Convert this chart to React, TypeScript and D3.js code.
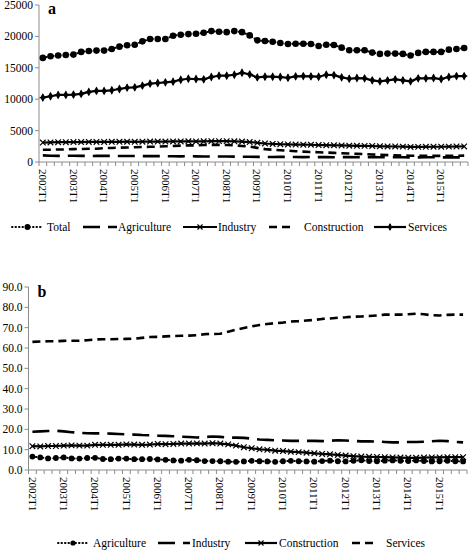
import React from "react";
import * as d3 from "d3";

const years = [2002, 2003, 2004, 2005, 2006, 2007, 2008, 2009, 2010, 2011, 2012, 2013, 2014, 2015];
const quarterSuffixes = ["T1", "T2", "T3", "T4"];
const quarters: string[] = years.flatMap((y) => quarterSuffixes.map((q) => `${y}${q}`));

// Panel a (thousands of employed)
const totalA = [16580,16840,16950,17050,17100,17530,17680,17740,17740,18000,18370,18580,18680,19210,19580,19580,19580,20100,20260,20370,20420,20580,20840,20740,20680,20840,20680,20160,19370,19260,19160,18950,18790,18840,18840,18790,18470,18680,18630,18210,17790,17790,17790,17420,17210,17260,17260,17210,16950,17370,17530,17530,17530,17890,18000,18160];
const agricultureA = [1050,1000,980,990,1000,980,960,970,990,960,950,960,960,940,930,940,930,910,900,920,900,880,870,880,870,850,830,840,820,810,800,820,800,790,780,800,780,770,760,780,770,760,750,770,760,740,750,760,740,730,760,750,740,730,740,750];
const industryA = [3100,3120,3150,3150,3170,3180,3200,3200,3190,3210,3220,3230,3220,3240,3260,3260,3250,3270,3280,3290,3280,3300,3310,3320,3320,3300,3250,3180,3050,2950,2880,2830,2800,2780,2760,2750,2700,2680,2660,2640,2600,2580,2570,2550,2500,2480,2470,2450,2400,2410,2420,2430,2430,2450,2470,2480];
const constructionA = [1940,1960,1990,2000,2050,2080,2100,2120,2200,2240,2280,2300,2350,2400,2420,2450,2500,2550,2600,2640,2650,2700,2720,2730,2700,2650,2550,2450,2250,2050,1950,1870,1800,1720,1650,1600,1550,1500,1450,1400,1350,1300,1250,1200,1150,1100,1050,1020,1000,1000,990,980,980,990,1000,1020];
const servicesA = [10260,10470,10680,10680,10740,10840,11160,11320,11320,11420,11630,11840,11890,12160,12470,12580,12680,12790,13100,13260,13210,13160,13530,13740,13740,13890,14210,13950,13470,13580,13580,13530,13420,13630,13680,13630,13580,13890,13840,13470,13260,13370,13320,13000,12840,13000,13160,13000,12840,13320,13320,13370,13210,13530,13680,13680];

// Panel b (shares, %)
const agricultureB = [6.6,6.2,5.7,5.9,6.2,5.7,5.6,5.9,6.0,5.4,5.3,5.6,5.6,5.3,5.3,5.4,5.2,5.0,4.7,4.6,5.0,4.8,4.4,4.4,4.3,4.1,4.0,4.2,4.5,4.3,4.2,4.0,4.3,4.5,4.3,4.2,4.1,4.4,4.6,4.3,4.2,4.5,4.8,4.4,4.3,4.6,4.7,4.5,4.4,4.7,4.4,4.2,4.3,4.5,4.3,4.2];
const industryB = [18.8,19.0,19.2,19.3,19.0,18.6,18.3,18.1,18.0,18.0,17.9,17.7,17.5,17.4,17.2,17.1,16.9,16.8,16.6,16.4,16.2,16.0,16.2,16.5,16.3,15.9,15.9,15.8,15.4,15.0,14.8,14.6,14.5,14.3,14.3,14.3,14.3,14.2,14.4,14.6,14.5,14.3,14.1,14.1,14.0,13.8,13.6,13.6,13.8,13.8,13.9,14.1,14.4,14.2,13.8,13.6];
const constructionB = [11.7,11.6,11.8,11.8,12.0,12.1,12.0,12.0,12.4,12.4,12.4,12.4,12.6,12.5,12.4,12.5,12.8,12.7,12.8,13.0,13.0,13.1,13.0,13.2,13.0,12.6,12.0,11.2,10.7,10.2,9.9,9.5,9.3,9.0,8.8,8.5,8.2,7.9,7.7,7.4,7.1,6.8,6.6,6.5,6.4,6.3,6.2,6.1,6.0,6.0,6.1,6.2,6.2,6.3,6.3,6.3];
const servicesB = [63.0,63.2,63.3,63.3,63.5,63.6,63.6,63.8,64.2,64.3,64.3,64.4,64.5,64.6,65.0,65.4,65.5,65.7,65.9,66.0,66.1,66.3,66.8,66.9,67.0,68.0,69.0,69.8,70.6,71.3,71.8,72.2,72.5,73.0,73.2,73.5,73.8,74.3,74.5,74.9,75.1,75.4,75.5,75.7,76.0,76.4,76.4,76.4,76.6,76.9,76.6,76.1,76.0,76.3,76.4,76.4];

const yTicksA = [0, 5000, 10000, 15000, 20000, 25000];
const yTicksB = [0, 10, 20, 30, 40, 50, 60, 70, 80, 90];

const FONT = "Liberation Serif, DejaVu Serif, serif";
const AXIS = "#8c8c8c";

type Style = {
  name: string;
  values: number[];
  dash?: string;
  width: number;
  marker?: "circle" | "x" | "diamond";
  r?: number;
  cap?: "round" | "butt";
};

function Marker({ kind, x, y, r }: { kind: string; x: number; y: number; r: number }) {
  if (kind === "circle") return <circle cx={x} cy={y} r={r} fill="#000" />;
  if (kind === "x")
    return (
      <path
        d={`M${x - r},${y - r}L${x + r},${y + r}M${x - r},${y + r}L${x + r},${y - r}`}
        stroke="#000"
        strokeWidth={1.2}
        fill="none"
      />
    );
  const p = d3.symbol(d3.symbolDiamond, r * r * 2.2)();
  return (
    <g transform={`translate(${x},${y})`}>
      <path d={p || ""} fill="#000" />
      <path d={`M${-r},0L${r},0M0,${-r}L0,${r}`} stroke="#000" strokeWidth={1.2} />
    </g>
  );
}

function Panel({
  series,
  x0,
  x1,
  yTop,
  yBottom,
  domainMax,
  ticks,
  fmt,
  letter,
  letterY,
}: {
  series: Style[];
  x0: number;
  x1: number;
  yTop: number;
  yBottom: number;
  domainMax: number;
  ticks: number[];
  fmt: (v: number) => string;
  letter: string;
  letterY: number;
}) {
  const x = d3.scaleBand<string>().domain(quarters).range([x0, x1]).padding(0);
  const y = d3.scaleLinear().domain([0, domainMax]).range([yBottom, yTop]);
  const cx = (q: string) => (x(q) as number) + x.bandwidth() / 2;
  const line = d3
    .line<number>()
    .x((_, i) => cx(quarters[i]))
    .y((d) => y(d));
  const boundaries = d3.range(quarters.length + 1).map((i) => x0 + i * x.bandwidth());
  return (
    <g style={{ fontFamily: FONT }}>
      <line x1={x0} x2={x0} y1={yTop} y2={yBottom} stroke={AXIS} strokeWidth={1} />
      {ticks.map((t) => (
        <g key={t}>
          <line x1={x0 - 4} x2={x0} y1={y(t)} y2={y(t)} stroke={AXIS} />
          <text x={x0 - 6} y={y(t)} dy="0.35em" textAnchor="end" fontSize={11.5}>
            {fmt(t)}
          </text>
        </g>
      ))}
      <line x1={x0} x2={x1} y1={yBottom} y2={yBottom} stroke={AXIS} strokeWidth={1} />
      {boundaries.map((b, i) => (
        <line key={i} x1={b} x2={b} y1={yBottom} y2={yBottom + 4} stroke={AXIS} />
      ))}
      {quarters.map((q, i) =>
        i % 4 === 0 ? (
          <text
            key={q}
            transform={`translate(${cx(q)},${yBottom + 7}) rotate(90)`}
            dy="0.35em"
            fontSize={11}
          >
            {q}
          </text>
        ) : null
      )}
      <text x={x0 + 9} y={letterY} fontSize={16} fontWeight="bold">
        {letter}
      </text>
      {series.map((s) => (
        <g key={s.name}>
          <path
            d={line(s.values) || ""}
            fill="none"
            stroke="#000"
            strokeWidth={s.width}
            strokeDasharray={s.dash}
            strokeLinecap={s.cap || "butt"}
            strokeLinejoin="round"
          />
          {s.marker &&
            s.values.map((v, i) => (
              <Marker key={i} kind={s.marker as string} x={cx(quarters[i])} y={y(v)} r={s.r || 3} />
            ))}
        </g>
      ))}
    </g>
  );
}

function LegendItem({ s, lx, lw, tx, y }: { s: Style; lx: number; lw: number; tx: number; y: number }) {
  return (
    <g style={{ fontFamily: FONT }}>
      <line
        x1={lx}
        x2={lx + lw}
        y1={y}
        y2={y}
        stroke="#000"
        strokeWidth={s.width}
        strokeDasharray={s.dash}
        strokeLinecap={s.cap || "butt"}
      />
      {s.marker && <Marker kind={s.marker} x={lx + lw / 2} y={y} r={(s.r || 3) * 0.9} />}
      <text x={tx} y={y} dy="0.35em" fontSize={11.5}>
        {s.name}
      </text>
    </g>
  );
}

export default function App() {
  const seriesA: Style[] = [
    { name: "Total", values: totalA, dash: "0.5,3", width: 2, marker: "circle", r: 3.3, cap: "round" },
    { name: "Agriculture", values: agricultureA, dash: "17,8", width: 2.6 },
    { name: "Industry", values: industryA, width: 2.2, marker: "x", r: 2.8 },
    { name: "Construction", values: constructionA, dash: "8,5", width: 2.6 },
    { name: "Services", values: servicesA, width: 2.2, marker: "diamond", r: 3.2 },
  ];
  const seriesB: Style[] = [
    { name: "Agriculture", values: agricultureB, dash: "0.5,3", width: 2, marker: "circle", r: 2.9, cap: "round" },
    { name: "Industry", values: industryB, dash: "17,8", width: 2.6 },
    { name: "Construction", values: constructionB, width: 2.2, marker: "x", r: 2.8 },
    { name: "Services", values: servicesB, dash: "8,5", width: 2.6 },
  ];
  const legendA = [
    { lx: 12, lw: 31, tx: 47 },
    { lx: 83, lw: 34, tx: 118 },
    { lx: 183, lw: 34, tx: 218 },
    { lx: 269, lw: 26, tx: 304 },
    { lx: 374, lw: 32, tx: 408 },
  ];
  const legendB = [
    { lx: 58, lw: 30, tx: 93 },
    { lx: 158, lw: 32, tx: 192 },
    { lx: 245, lw: 32, tx: 279 },
    { lx: 352, lw: 26, tx: 386 },
  ];
  return (
    <svg
      width={473}
      height={551}
      style={{ position: "absolute", left: 0, top: 0, background: "#fff" }}
    >
      <Panel
        series={seriesA}
        x0={39}
        x1={468}
        yTop={5}
        yBottom={162}
        domainMax={25000}
        ticks={yTicksA}
        fmt={(v) => String(v)}
        letter="a"
        letterY={14}
      />
      {seriesA.map((s, i) => (
        <LegendItem key={s.name} s={s} lx={legendA[i].lx} lw={legendA[i].lw} tx={legendA[i].tx} y={227} />
      ))}
      <Panel
        series={seriesB}
        x0={28.5}
        x1={467}
        yTop={287}
        yBottom={470}
        domainMax={90}
        ticks={yTicksB}
        fmt={(v) => v.toFixed(1)}
        letter="b"
        letterY={297}
      />
      {seriesB.map((s, i) => (
        <LegendItem key={s.name} s={s} lx={legendB[i].lx} lw={legendB[i].lw} tx={legendB[i].tx} y={543} />
      ))}
    </svg>
  );
}
